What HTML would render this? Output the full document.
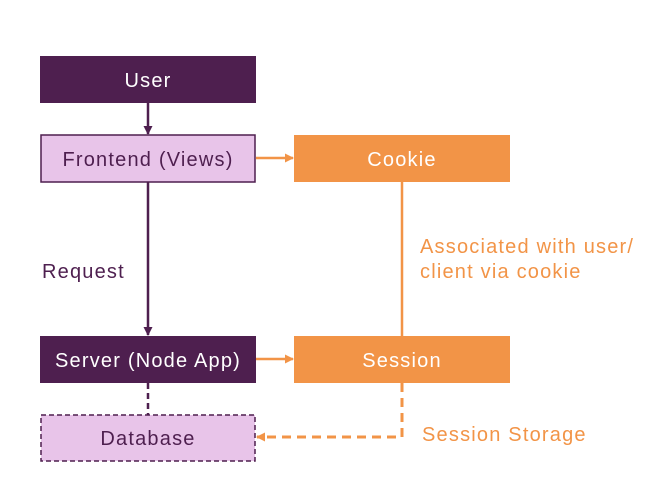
<!DOCTYPE html>
<html><head><style>
body{margin:0;background:#fff;}
svg text{font-family:"Liberation Sans",sans-serif;font-size:20px;letter-spacing:1.2px;}
</style></head><body>
<svg width="670" height="477" viewBox="0 0 670 477" xmlns="http://www.w3.org/2000/svg">
<defs>
<marker id="ap" markerWidth="9" markerHeight="9" refX="8" refY="4.5" orient="auto" markerUnits="userSpaceOnUse"><path d="M0,0 L9,4.5 L0,9z" fill="#4e1f4f"/></marker>
<marker id="ao" markerWidth="9" markerHeight="9" refX="8" refY="4.5" orient="auto" markerUnits="userSpaceOnUse"><path d="M0,0 L9,4.5 L0,9z" fill="#f29447"/></marker>
</defs>
<line x1="148" y1="103" x2="148" y2="134" stroke="#4e1f4f" stroke-width="2.5" marker-end="url(#ap)"/>
<line x1="148" y1="182" x2="148" y2="335" stroke="#4e1f4f" stroke-width="2.5" marker-end="url(#ap)"/>
<line x1="148" y1="383" x2="148" y2="415" stroke="#4e1f4f" stroke-width="2.5" stroke-dasharray="6,4"/>
<line x1="256" y1="158" x2="293" y2="158" stroke="#f29447" stroke-width="2.5" marker-end="url(#ao)"/>
<line x1="256" y1="359" x2="293" y2="359" stroke="#f29447" stroke-width="2.5" marker-end="url(#ao)"/>
<line x1="402" y1="182" x2="402" y2="336" stroke="#f29447" stroke-width="2.5"/>
<polyline points="402,383 402,437 257,437" fill="none" stroke="#f29447" stroke-width="3" stroke-dasharray="9,6" marker-end="url(#ao)"/>
<rect x="40" y="56" width="216" height="47" fill="#4e1f4f"/>
<text x="148" y="87" text-anchor="middle" fill="#fff">User</text>
<rect x="41" y="135" width="214" height="47" fill="#e8c4e9" stroke="#4e1f4f" stroke-width="1.5"/>
<text x="148" y="166" text-anchor="middle" fill="#4e1f4f">Frontend (Views)</text>
<rect x="294" y="135" width="216" height="47" fill="#f29447"/>
<text x="402" y="166" text-anchor="middle" fill="#fff">Cookie</text>
<rect x="40" y="336" width="216" height="47" fill="#4e1f4f"/>
<text x="148" y="367" text-anchor="middle" fill="#fff">Server (Node App)</text>
<rect x="294" y="336" width="216" height="47" fill="#f29447"/>
<text x="402" y="367" text-anchor="middle" fill="#fff">Session</text>
<rect x="41" y="415" width="214" height="46" fill="#e8c4e9" stroke="#4e1f4f" stroke-width="1.5" stroke-dasharray="5,3"/>
<text x="148" y="445" text-anchor="middle" fill="#4e1f4f">Database</text>
<text x="42" y="278" fill="#4e1f4f">Request</text>
<text x="420" y="253" fill="#f29447">Associated with user/</text>
<text x="420" y="278" fill="#f29447">client via cookie</text>
<text x="422" y="441" fill="#f29447">Session Storage</text>
</svg>
</body></html>
